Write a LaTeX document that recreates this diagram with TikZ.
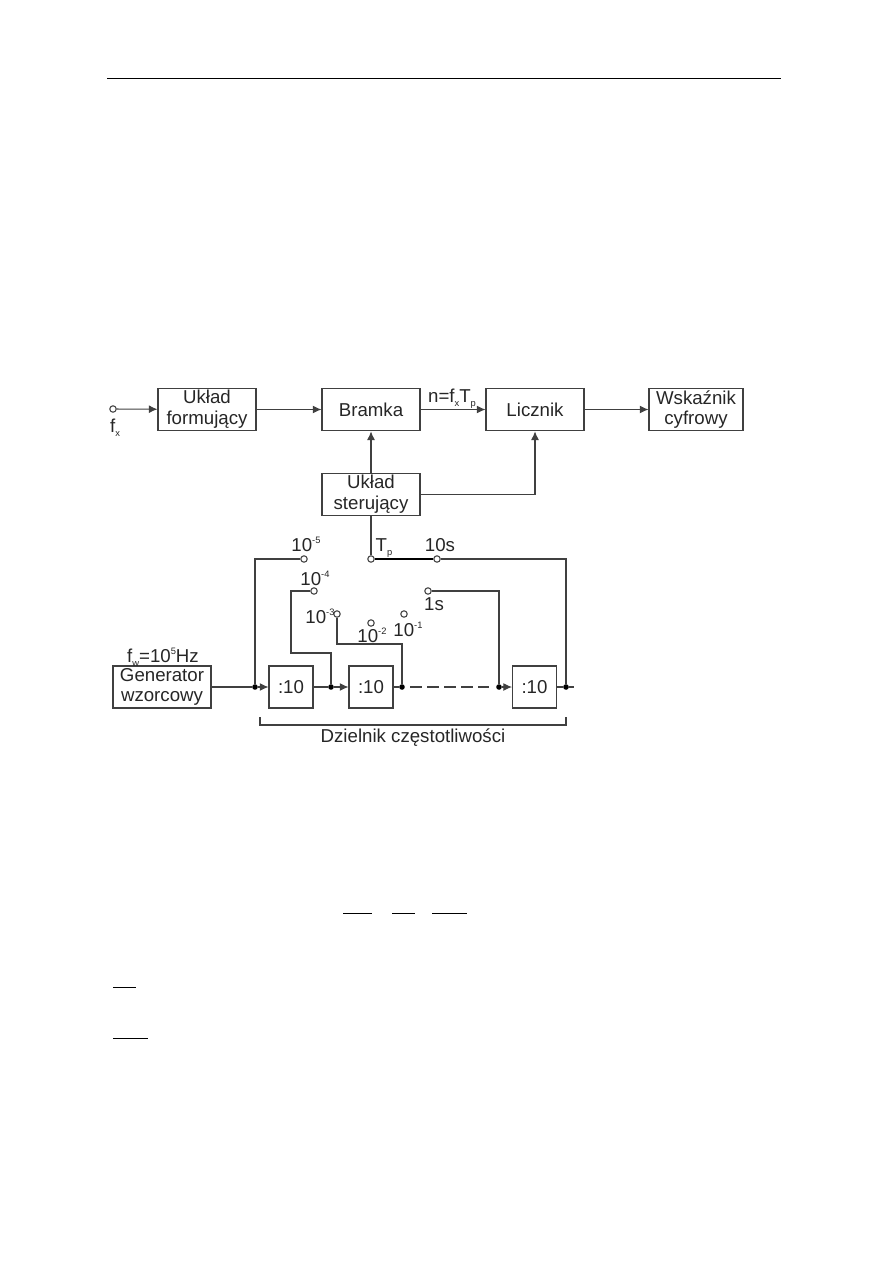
\documentclass[tikz,border=0pt]{standalone}
\usepackage{fontspec}
\setmainfont{Liberation Sans}
\usepackage{tikz}
\usetikzlibrary{arrows.meta}
\definecolor{blockline}{HTML}{404040}
\definecolor{blocktext}{HTML}{262626}
\newcommand{\lowtxt}[1]{\raisebox{-0.45ex}{\fontsize{7}{8}\selectfont #1}}
\newcommand{\hightxt}[1]{\raisebox{0.75ex}{\fontsize{7}{8}\selectfont #1}}
\tikzset{
  blockbox/.style={draw=blockline, line width=0.8pt, inner sep=0pt, align=center, text=blocktext,
    font=\fontsize{14}{15.5}\selectfont},
  wire/.style={draw=blockline, line width=0.8pt},
  wirearrow/.style={wire, -{Latex[length=6.5pt,width=6pt]}},
  swpoint/.style={circle, draw=blockline, fill=white, line width=0.8pt, inner sep=0pt, minimum size=4.8pt},
  joindot/.style={circle, fill=black, inner sep=0pt, minimum size=4.2pt},
  lab/.style={inner sep=0pt, anchor=base, text=blocktext, font=\fontsize{14}{15.5}\selectfont},
  rulebar/.style={black, line width=0.7pt},
}
\begin{document}
\begin{tikzpicture}[x=0.75pt, y=-0.75pt]
  \useasboundingbox (0,0) rectangle (893,1263);
  % page rules
  \draw[rulebar] (107,78) -- (781,78);
  \draw[rulebar] (343,913) -- (372,913);
  \draw[rulebar] (392,913) -- (415,913);
  \draw[rulebar] (432,913) -- (467,913);
  \draw[rulebar] (113,987) -- (136,987);
  \draw[rulebar] (113,1038) -- (148,1038);
  % top row
  \node[blockbox, minimum width=73.5pt, minimum height=32pt] (uform) at (207,409.5) {Układ\\formujący};
  \node[blockbox, minimum width=73.5pt, minimum height=32pt] (bramka) at (371,409.5) {Bramka};
  \node[blockbox, minimum width=73.5pt, minimum height=32pt] (licznik) at (535,409.5) {Licznik};
  \node[blockbox, minimum width=70.5pt, minimum height=32pt] (wskaz) at (696,409.5) {Wskaźnik\\cyfrowy};
  \node[blockbox, minimum width=73.5pt, minimum height=32pt] (uster) at (371,494.5) {Układ\\sterujący};
  % bottom row
  \node[blockbox, minimum width=73.5pt, minimum height=31.5pt] (gen) at (162,687) {Generator\\wzorcowy};
  \node[blockbox, minimum width=33pt, minimum height=31.5pt] (dzA) at (291,687) {:10};
  \node[blockbox, minimum width=33pt, minimum height=31.5pt] (dzB) at (371,687) {:10};
  \node[blockbox, minimum width=33pt, minimum height=31.5pt] (dzC) at (534.5,687) {:10};
  % switch contacts
  \foreach \name/\x/\y in {wej/113/409,tp/371/559,s10/437/559,em5/304/559,em4/314/591,em3/337/614,em2/371/623,em1/404/614,s1/428/591}{
    \node[swpoint] (\name) at (\x,\y) {};
  }
  % junctions
  \foreach \name/\x in {jA/255,jB/331,jC/402,jD/499,jE/566}{
    \node[joindot] (\name) at (\x,687) {};
  }
  \coordinate (koniec) at (574,687);
  \coordinate (zalA) at (291,653);
  \coordinate (zalB) at (337,644);
  \coordinate (klamraL) at (260,717);
  \coordinate (klamraR) at (566,717);
  % connectors, top
  \draw[wirearrow] (wej) -- (uform);
  \draw[wirearrow] (uform) -- (bramka);
  \draw[wirearrow] (bramka) -- (licznik);
  \draw[wirearrow] (licznik) -- (wskaz);
  \draw[wirearrow] (uster) -- (bramka);
  \draw[wirearrow] (uster) -| (licznik);
  \draw[wire] (uster) -- (tp);
  \draw[black, line width=1.4pt] (tp) -- (s10);
  % connectors, bottom
  \draw[wire] (gen) -- (jA);
  \draw[wirearrow] (jA) -- (dzA);
  \draw[wire] (dzA) -- (jB);
  \draw[wirearrow] (jB) -- (dzB);
  \draw[wire] (dzB) -- (jC);
  \draw[wire, dash pattern=on 9pt off 3.75pt, dash phase=9pt, shorten >=5pt] (jC) -- (jD);
  \draw[wirearrow] (jD) -- (dzC);
  \draw[wire] (dzC) -- (jE) -- (koniec);
  \draw[wire] (em5) -| (jA);
  \draw[wire] (em4) -| (zalA) -| (jB);
  \draw[wire] (em3) -- (zalB) -| (jC);
  \draw[wire] (s1) -| (jD);
  \draw[wire] (s10) -| (jE);
  \draw[wire] (klamraL) -- ++(0,8) -| (klamraR);
  % labels
  \node[lab] (lfx) at (115,432) {f\lowtxt{x}};
  \node[lab] (lnfx) at (452,402) {n=f\lowtxt{x}T\lowtxt{p}};
  \node[lab] (ltp) at (384,551) {T\lowtxt{p}};
  \node[lab] (l10s) at (440,551) {10s};
  \node[lab] (lem5) at (306,551) {10\hightxt{-5}};
  \node[lab] (lem4) at (315,585) {10\hightxt{-4}};
  \node[lab] (lem3) at (320,623) {10\hightxt{-3}};
  \node[lab] (lem2) at (372,642) {10\hightxt{-2}};
  \node[lab] (lem1) at (408,636) {10\hightxt{-1}};
  \node[lab] (l1s) at (434,610) {1s};
  \node[lab] (lfw) at (163,662) {f\lowtxt{w}=10\hightxt{5}Hz};
  \node[lab] (ldz) at (413,742) {Dzielnik częstotliwości};
\end{tikzpicture}
\end{document}
